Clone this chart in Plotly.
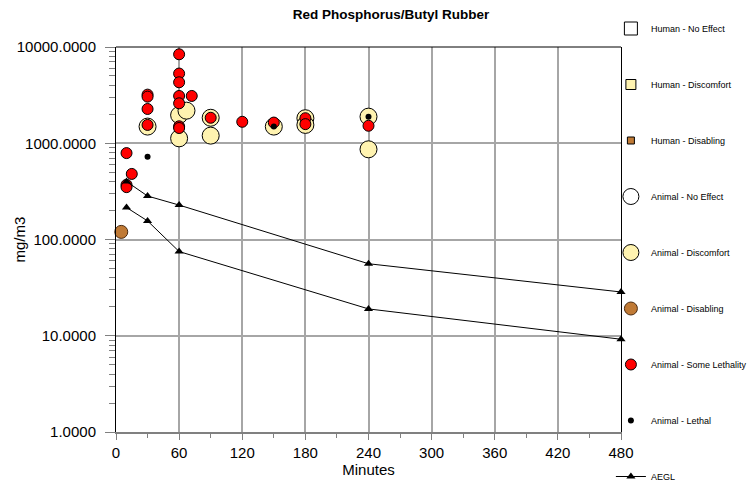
import plotly.graph_objects as go

# ---------------- data ----------------
red_t = [10, 15, 10, 10, 30, 30, 30, 30, 60, 60, 60, 60, 60, 60, 60, 72, 90, 120, 150, 180, 180, 240]
red_c = [790, 480, 370, 350, 3200, 3050, 2270, 1550, 8400, 5300, 4300, 3100, 2600, 1500, 1440, 3100, 1840, 1670, 1640, 1820, 1580, 1520]

yel_t = [30, 60, 67, 60, 90, 90, 150, 180, 180, 240, 240]
yel_c = [1490, 1960, 2180, 1125, 1840, 1200, 1490, 1820, 1550, 1890, 865]

blk_t = [30, 150, 240]
blk_c = [725, 1490, 1890]

dis_t = [5]
dis_c = [120]

aegl_t = [10, 30, 60, 240, 480]
aegl3 = [400, 283, 228, 56, 28.5]
aegl2 = [215, 156, 75, 19, 9.2]

x_ticks = [0, 60, 120, 180, 240, 300, 360, 420, 480]
y_ticks = [1, 10, 100, 1000, 10000]
y_minor = [m * 10 ** e for e in range(0, 4) for m in range(2, 10)]

FONT = "Liberation Sans, Arial, sans-serif"
YEL = "#fff3b0"
BROWN = "#c07a35"

fig = go.Figure()

def legend_only(name, symbol, color, size, lw=1):
    fig.add_trace(go.Scatter(x=[None], y=[None], mode="markers", name=name,
                             legendgroup=name,
                             marker=dict(symbol=symbol, color=color, size=size,
                                         line=dict(color="black", width=lw))))

legend_only("Human - No Effect", "square", "white", 13)
legend_only("Human - Discomfort", "square", YEL, 10)
legend_only("Human - Disabling", "square", BROWN, 7)
legend_only("Animal - No Effect", "circle", "white", 16)

fig.add_trace(go.Scatter(x=yel_t, y=yel_c, mode="markers", name="Animal - Discomfort",
                         legendgroup="ad", cliponaxis=False,
                         marker=dict(symbol="circle", color=YEL, size=17,
                                     line=dict(color="black", width=1))))
fig.add_trace(go.Scatter(x=dis_t, y=dis_c, mode="markers", name="Animal - Disabling",
                         legendgroup="adis", cliponaxis=False,
                         marker=dict(symbol="circle", color=BROWN, size=13,
                                     line=dict(color="#4a2a10", width=1))))
fig.add_trace(go.Scatter(x=red_t, y=red_c, mode="markers", name="Animal - Some Lethality",
                         legendgroup="asl", cliponaxis=False,
                         marker=dict(symbol="circle", color="#ff0000", size=11,
                                     line=dict(color="black", width=1))))
fig.add_trace(go.Scatter(x=blk_t, y=blk_c, mode="markers", name="Animal - Lethal",
                         legendgroup="al", cliponaxis=False,
                         marker=dict(symbol="circle", color="black", size=6,
                                     line=dict(color="black", width=0))))
fig.add_trace(go.Scatter(x=aegl_t, y=aegl3, mode="lines+markers", name="AEGL",
                         legendgroup="aegl", cliponaxis=False,
                         line=dict(color="black", width=1),
                         marker=dict(symbol="triangle-up", color="black", size=8)))
fig.add_trace(go.Scatter(x=aegl_t, y=aegl2, mode="lines+markers", name="AEGL-2",
                         legendgroup="aegl", showlegend=False, cliponaxis=False,
                         line=dict(color="black", width=1),
                         marker=dict(symbol="triangle-up", color="black", size=8)))

fig.add_annotation(x=297, y=66, text="AEGL-3", showarrow=False,
                   font=dict(family=FONT, size=9.5, color="black"))
fig.add_annotation(x=125, y=21.4, text="AEGL-2", showarrow=False,
                   bgcolor="#f6f6f6",
                   font=dict(family=FONT, size=9.5, color="black"))
# y-axis title placed as in the reference (close to the axis labels)
fig.add_annotation(xref="paper", yref="paper", x=-97 / 505, y=0.5, text="mg/m3",
                   textangle=-90, showarrow=False, xanchor="center", yanchor="middle",
                   font=dict(family=FONT, size=15, color="black"))

# top border of plot frame
fig.add_shape(type="line", xref="paper", yref="paper", x0=0, x1=1, y0=1, y1=1,
              line=dict(color="black", width=1))

fig.update_layout(
    width=748, height=486,
    margin=dict(l=108, r=135, t=39, b=62, autoexpand=False),
    paper_bgcolor="white", plot_bgcolor="white",
    font=dict(family=FONT, size=15, color="black"),
    title=dict(text="<b>Red Phosphorus/Butyl Rubber</b>", x=383 / 748, xanchor="center",
               xref="container", yref="container", y=1 - 2 / 486, yanchor="top",
               pad=dict(t=0, b=0),
               font=dict(family=FONT, size=13.5, color="black")),
    showlegend=True,
    legend=dict(x=0.98, xanchor="left", yref="container", y=1 - 6 / 486, yanchor="top",
                maxheight=1.0,
                font=dict(family=FONT, size=9, color="black"),
                tracegroupgap=37, itemwidth=30, bgcolor="rgba(0,0,0,0)",
                traceorder="grouped"),
    xaxis=dict(range=[0, 480], tickvals=x_ticks, ticktext=[str(v) for v in x_ticks],
               showgrid=True, gridcolor="#a6a6a6", gridwidth=1.5,
               showline=True, linecolor="#808080", linewidth=1.5,
               ticks="outside", ticklen=6, tickcolor="#808080",
               minor=dict(tickvals=[30, 90, 150, 210, 270, 330, 390, 450],
                          ticks="outside", ticklen=4, tickcolor="#808080", showgrid=False),
               zeroline=False, title=dict(text="Minutes", standoff=3,
                                           font=dict(family=FONT, size=15)),
               tickfont=dict(family=FONT, size=15)),
    yaxis=dict(type="log", range=[0, 4], tickvals=y_ticks,
               ticktext=[f"{v:.4f}" for v in y_ticks],
               showgrid=True, gridcolor="#a6a6a6", gridwidth=1.5,
               showline=True, linecolor="black", linewidth=1, mirror=True,
               ticks="outside", ticklen=10, tickcolor="#808080",
               ticklabelstandoff=6,
               minor=dict(tickvals=y_minor, ticks="outside", ticklen=6,
                          tickcolor="#808080", showgrid=False),
               zeroline=False,
               tickfont=dict(family=FONT, size=15)),
)

fig.write_html("out.html")
